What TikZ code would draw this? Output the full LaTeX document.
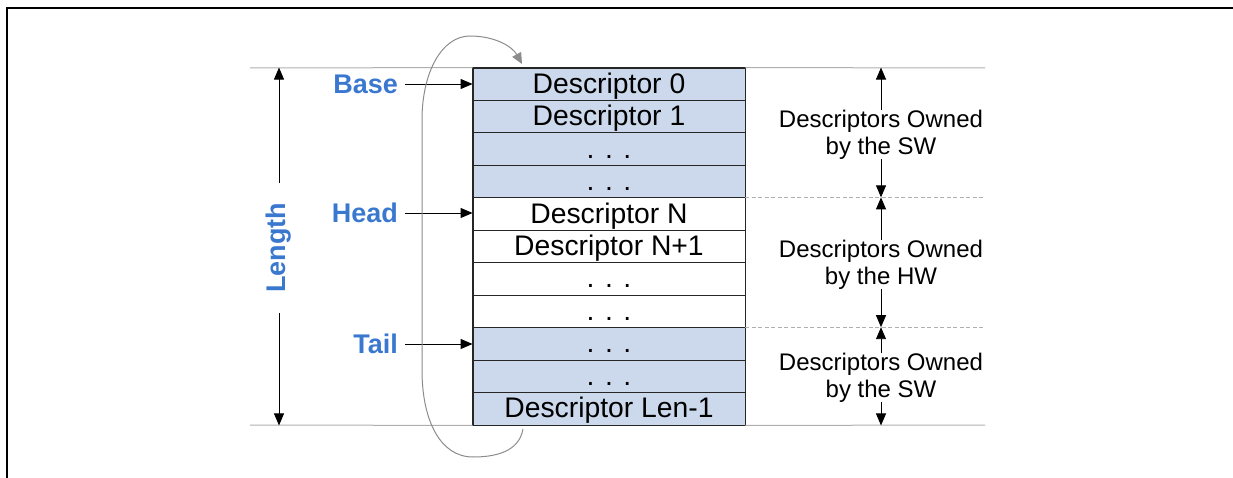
\documentclass[tikz,border=0pt]{standalone}
\usepackage{fontspec}
\setmainfont{Liberation Sans}
\usetikzlibrary{arrows.meta}
\definecolor{rowblue}{RGB}{204,217,236}
\definecolor{lblblue}{RGB}{58,120,208}
\definecolor{guide}{RGB}{175,175,175}
\definecolor{loopgray}{RGB}{140,140,140}
\begin{document}
\begin{tikzpicture}[x=1pt,y=-1pt,
  rowbox/.style={draw=black!85,line width=0.9pt,minimum width=272pt,minimum height=32.45pt,inner sep=0pt,text height=24pt,text depth=6pt,font=\fontsize{28.3}{30}\selectfont},
  ptrlbl/.style={inner sep=0pt,text=lblblue,font=\fontsize{27}{30}\selectfont\bfseries},
  ownlbl/.style={inner sep=0pt,align=center,font=\fontsize{24}{27}\selectfont},
  arr/.style={-{Triangle[width=10pt,length=12pt]},line width=0.9pt,black},
  guideline/.style={guide,line width=1pt},
  guidedash/.style={guide,line width=1pt,dash pattern=on 4pt off 2.5pt},
  looparr/.style={-{Triangle[width=10pt,length=11pt]},loopgray,line width=1pt}]
\useasboundingbox (0,0) rectangle (1233,478);
% frame
\draw[line width=2.5pt] (7,478) -- (7,8) -- (1233,8);
% rows
\foreach \i/\t/\f in {0/Descriptor 0/rowblue,1/Descriptor 1/rowblue,2/. . ./rowblue,3/. . ./rowblue,
  4/Descriptor N/white,5/Descriptor N+1/white,6/. . ./white,7/. . ./white,
  8/. . ./rowblue,9/. . ./rowblue,10/Descriptor Len-1/rowblue}
  \node[rowbox,fill=\f] (r\i) at (609,{68+32.4545*(\i+0.5)}) {\t};
\draw[line width=1.3pt,black!85] (r0.north west) rectangle (r10.south east);
% guide lines
\coordinate (gTL) at (250,68); \coordinate (gTR) at (985,68);
\coordinate (gBL) at (250,425); \coordinate (gBR) at (985,425);
\draw[guideline] (gTL) -- (r0.north west);
\draw[guideline] (r0.north east) -- (gTR);
\draw[guideline] (gBL) -- (r10.south west);
\draw[guideline] (r10.south east) -- (gBR);
\draw[guidedash] (r4.north east) -- (r4.north east -| gTR);
\draw[guidedash] (r8.north east) -- (r8.north east -| gTR);
% pointer labels
\node[ptrlbl,anchor=east] (base) at (398,84) {Base};
\node[ptrlbl,anchor=east] (head) at (398,213) {Head};
\node[ptrlbl,anchor=east] (tail) at (398,344) {Tail};
\draw[arr] ([xshift=7pt]base.east) -- (base.east -| r0.west);
\draw[arr] ([xshift=7pt]head.east) -- (head.east -| r4.west);
\draw[arr] ([xshift=7pt]tail.east) -- (tail.east -| r8.west);
% Length
\node[ptrlbl,rotate=90] (len) at (279,248) {Length};
\coordinate (lenA) at (279,183); \coordinate (lenB) at (279,313);
\draw[arr] (lenA) -- (lenA |- r0.north);
\draw[arr] (lenB) -- (lenB |- r10.south);
% ownership labels
\node[ownlbl] (own1) at (881,134.5) {Descriptors Owned\\by the SW};
\node[ownlbl] (own2) at (881,264.5) {Descriptors Owned\\by the HW};
\node[ownlbl] (own3) at (881,377.5) {Descriptors Owned\\by the SW};
\draw[arr] (own1.north) -- (own1.north |- r0.north);
\draw[arr] (own1.south) -- (own1.south |- r4.north);
\draw[arr] (own2.north) -- (own2.north |- r4.north);
\draw[arr] (own2.south) -- (own2.south |- r8.north);
\draw[arr] (own3.north) -- (own3.north |- r8.north);
\draw[arr] (own3.south) -- (own3.south |- r10.south);
% wrap-around loop
\coordinate (lpS) at (523,429);
\coordinate (lpE) at (522,64);
\draw[looparr] (lpS) .. controls (519,452) and (495,457) .. (473,457)
  .. controls (440,457) and (422,420) .. (422,370) -- (422,120)
  .. controls (422,72) and (442,36) .. (470,36)
  .. controls (494,36) and (512,46) .. (lpE);
\end{tikzpicture}
\end{document}
